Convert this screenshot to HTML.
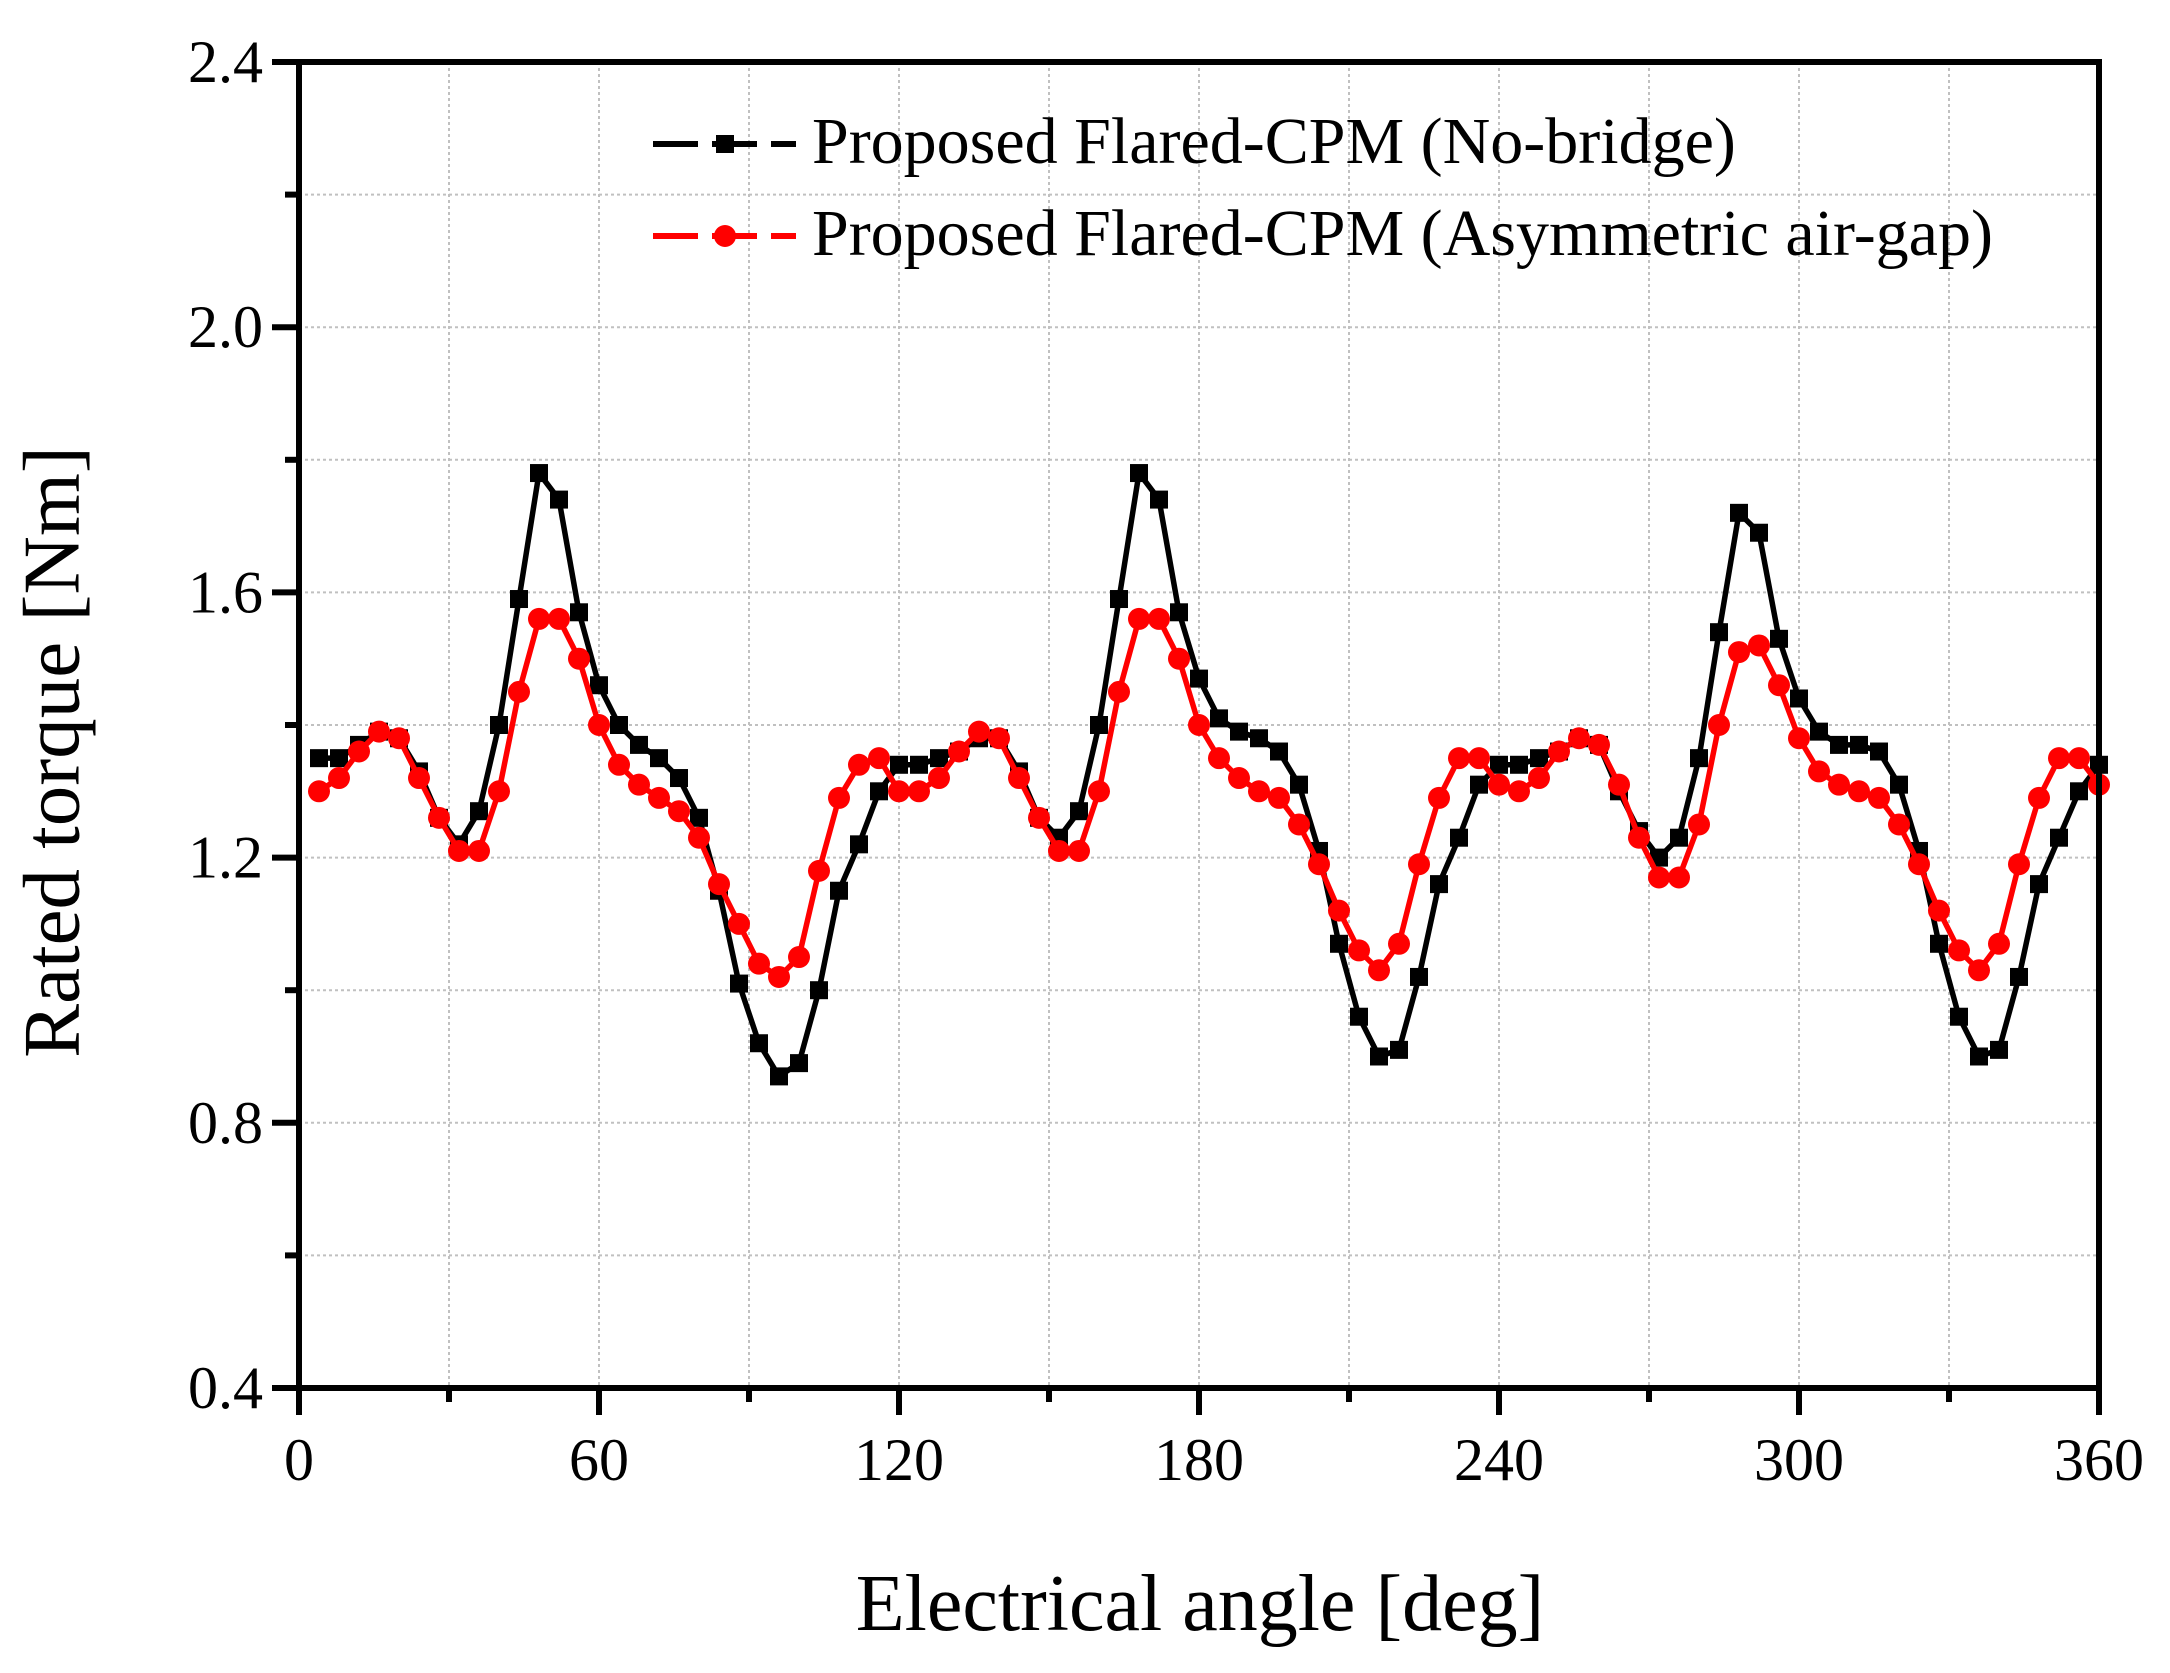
<!DOCTYPE html>
<html><head><meta charset="utf-8"><style>
html,body{margin:0;padding:0;background:#fff}
svg{display:block;font-family:"Liberation Serif",serif}
</style></head><body>
<svg id="chart" width="2170" height="1673" viewBox="0 0 2170 1673" xmlns="http://www.w3.org/2000/svg">
<g id="grid"></g>
<g id="series"></g>
<g id="axes"></g>
<g id="legend">
  <line x1="653" y1="144" x2="796" y2="144" stroke="#000" stroke-width="6" stroke-dasharray="45,14"/>
  <rect x="716" y="135" width="18" height="18" fill="#000"/>
  <text x="812" y="148" font-size="66" dominant-baseline="middle">Proposed Flared-CPM (No-bridge)</text>
  <line x1="653" y1="236" x2="796" y2="236" stroke="#ff0000" stroke-width="6" stroke-dasharray="45,14"/>
  <circle cx="725" cy="236" r="11" fill="#ff0000"/>
  <text x="812" y="240" font-size="66" dominant-baseline="middle">Proposed Flared-CPM (Asymmetric air-gap)</text>
</g>
<text x="1200" y="1630" font-size="80" text-anchor="middle">Electrical angle [deg]</text>
<text x="0" y="0" font-size="81" text-anchor="middle" dominant-baseline="middle" transform="translate(60,752) rotate(-90)">Rated torque [Nm]</text>
</svg>
<script>
const angles = [4,8,12,16,20,24,28,32,36,40,44,48,52,56,60,64,68,72,76,80,84,88,92,96,100,104,108,112,116,120,124,128,132,136,140,144,148,152,156,160,164,168,172,176,180,184,188,192,196,200,204,208,212,216,220,224,228,232,236,240,244,248,252,256,260,264,268,272,276,280,284,288,292,296,300,304,308,312,316,320,324,328,332,336,340,344,348,352,356,360];
const noBridge = [1.35,1.35,1.37,1.39,1.38,1.33,1.26,1.22,1.27,1.40,1.59,1.78,1.74,1.57,1.46,1.40,1.37,1.35,1.32,1.26,1.15,1.01,0.92,0.87,0.89,1.00,1.15,1.22,1.30,1.34,1.34,1.35,1.36,1.38,1.38,1.33,1.26,1.23,1.27,1.40,1.59,1.78,1.74,1.57,1.47,1.41,1.39,1.38,1.36,1.31,1.21,1.07,0.96,0.90,0.91,1.02,1.16,1.23,1.31,1.34,1.34,1.35,1.36,1.38,1.37,1.30,1.24,1.20,1.23,1.35,1.54,1.72,1.69,1.53,1.44,1.39,1.37,1.37,1.36,1.31,1.21,1.07,0.96,0.90,0.91,1.02,1.16,1.23,1.30,1.34];
const asymmetric = [1.30,1.32,1.36,1.39,1.38,1.32,1.26,1.21,1.21,1.30,1.45,1.56,1.56,1.50,1.40,1.34,1.31,1.29,1.27,1.23,1.16,1.10,1.04,1.02,1.05,1.18,1.29,1.34,1.35,1.30,1.30,1.32,1.36,1.39,1.38,1.32,1.26,1.21,1.21,1.30,1.45,1.56,1.56,1.50,1.40,1.35,1.32,1.30,1.29,1.25,1.19,1.12,1.06,1.03,1.07,1.19,1.29,1.35,1.35,1.31,1.30,1.32,1.36,1.38,1.37,1.31,1.23,1.17,1.17,1.25,1.40,1.51,1.52,1.46,1.38,1.33,1.31,1.30,1.29,1.25,1.19,1.12,1.06,1.03,1.07,1.19,1.29,1.35,1.35,1.31];
const xTicks = [0,60,120,180,240,300,360];
const xMinor = [30,90,150,210,270,330];
const yTicks = [0.4,0.8,1.2,1.6,2.0,2.4];
const yMinor = [0.6,1.0,1.4,1.8,2.2];

const L=299,R=2099,T=62,B=1388;
const xs = v => L + (v-0)/(360-0)*(R-L);
const ys = v => B - (v-0.4)/(2.4-0.4)*(B-T);
const NS='http://www.w3.org/2000/svg';
function mk(tag, attrs, parent){const e=document.createElementNS(NS,tag);for(const k in attrs)e.setAttribute(k,attrs[k]);parent.appendChild(e);return e;}
const grid=document.getElementById('grid'), axes=document.getElementById('axes'), series=document.getElementById('series');

xTicks.concat(xMinor).forEach(v=>{ if(v===0||v===360) return;
  const g=mk('line',{x1:xs(v),x2:xs(v),y1:T,y2:B,stroke:'#c0c0c0','stroke-width':2,'stroke-dasharray':'3,3'},grid);
  
  
});
yTicks.concat(yMinor).forEach(v=>{ if(v===0.4||v===2.4) return;
  const g=mk('line',{x1:L,x2:R,y1:ys(v),y2:ys(v),stroke:'#c0c0c0','stroke-width':2,'stroke-dasharray':'3,3'},grid);
  
  
});

function drawSeries(vals,color,name,isSquare){
  const pts=angles.map((a,i)=>xs(a)+','+ys(vals[i])).join(' ');
  const pl=mk('polyline',{points:pts,fill:'none',stroke:color,'stroke-width':5.5,'stroke-linejoin':'round'},series);
  
  
  angles.forEach((a,i)=>{
    let m;
    if(isSquare){ m=mk('rect',{x:xs(a)-9,y:ys(vals[i])-9,width:18,height:18,fill:color},series); }
    else { m=mk('circle',{cx:xs(a),cy:ys(vals[i]),r:11,fill:color},series); }
    
    
  });
}
drawSeries(noBridge,'#000','no-bridge',true);
drawSeries(asymmetric,'#ff0000','asymmetric-air-gap',false);

const frame=mk('rect',{x:L,y:T,width:R-L,height:B-T,fill:'none',stroke:'#000','stroke-width':6},axes);



xTicks.forEach(v=>{
  const t=mk('line',{x1:xs(v),x2:xs(v),y1:B,y2:B+27,stroke:'#000','stroke-width':6},axes);
  
  
  const lb=mk('text',{x:xs(v),y:1480,'font-size':60,'text-anchor':'middle'},axes);
  lb.textContent=v;
  
  
});
xMinor.forEach(v=>{
  const t=mk('line',{x1:xs(v),x2:xs(v),y1:B,y2:B+14,stroke:'#000','stroke-width':6},axes);
  
  
});
yTicks.forEach(v=>{
  const t=mk('line',{x1:L-27,x2:L,y1:ys(v),y2:ys(v),stroke:'#000','stroke-width':6},axes);
  
  
  const lb=mk('text',{x:263,y:ys(v)+20,'font-size':60,'text-anchor':'end'},axes);
  lb.textContent=v.toFixed(1);
  
  
});
yMinor.forEach(v=>{
  const t=mk('line',{x1:L-14,x2:L,y1:ys(v),y2:ys(v),stroke:'#000','stroke-width':6},axes);
  
  
});
</script>
</body></html>
